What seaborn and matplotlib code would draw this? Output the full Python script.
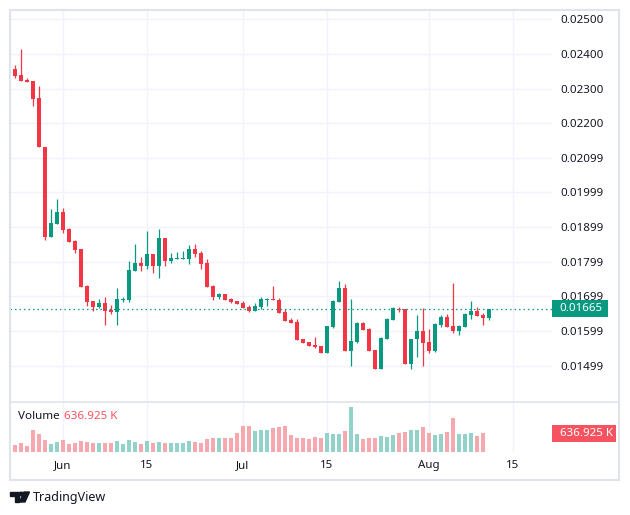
import numpy as np
import pandas as pd
import matplotlib
matplotlib.use('Agg')
import matplotlib.pyplot as plt
import matplotlib.transforms as mtransforms
from matplotlib.patches import Rectangle, Polygon, Circle
import seaborn as sns

# daily candles, first one 23 May
start_date = '2024-05-23'
opens = [
    0.02375, 0.02357, 0.02339, 0.02326, 0.02322, 0.02273, 0.02131, 0.01872, 0.01910, 0.01944,
    0.01895, 0.01860, 0.01837, 0.01730, 0.01687, 0.01670, 0.01681, 0.01662, 0.01656, 0.01689,
    0.01691, 0.01774, 0.01797, 0.01789, 0.01822, 0.01789, 0.01869, 0.01803, 0.01809, 0.01809,
    0.01809, 0.01837, 0.01825, 0.01797, 0.01730, 0.01699, 0.01708, 0.01693, 0.01688, 0.01682,
    0.01670, 0.01659, 0.01670, 0.01691, 0.01693, 0.01691, 0.01656, 0.01633, 0.01627, 0.01577,
    0.01568, 0.01560, 0.01557, 0.01538, 0.01613, 0.01685, 0.01724, 0.01543, 0.01569, 0.01624,
    0.01606, 0.01545, 0.01491, 0.01578, 0.01633, 0.01665, 0.01665, 0.01506, 0.01576, 0.01600,
    0.01568, 0.01543, 0.01618, 0.01641, 0.01615, 0.01601, 0.01613, 0.01647, 0.01658, 0.01646,
    0.01639]
closes = [
    0.02354, 0.02336, 0.02323, 0.02320, 0.02271, 0.02132, 0.01872, 0.01912, 0.01944, 0.01893,
    0.01858, 0.01835, 0.01728, 0.01685, 0.01670, 0.01681, 0.01658, 0.01656, 0.01693, 0.01693,
    0.01776, 0.01797, 0.01789, 0.01822, 0.01789, 0.01869, 0.01803, 0.01812, 0.01812, 0.01812,
    0.01837, 0.01823, 0.01794, 0.01728, 0.01699, 0.01708, 0.01691, 0.01685, 0.01679, 0.01667,
    0.01659, 0.01673, 0.01693, 0.01693, 0.01691, 0.01653, 0.01630, 0.01624, 0.01575, 0.01566,
    0.01558, 0.01555, 0.01538, 0.01615, 0.01687, 0.01724, 0.01543, 0.01571, 0.01624, 0.01604,
    0.01543, 0.01491, 0.01580, 0.01635, 0.01666, 0.01662, 0.01506, 0.01576, 0.01600, 0.01566,
    0.01543, 0.01621, 0.01641, 0.01613, 0.01601, 0.01615, 0.01649, 0.01658, 0.01644, 0.01639,
    0.01665]
highs = [
    0.02377, 0.02368, 0.02414, 0.02330, 0.02322, 0.02307, 0.02131, 0.01952, 0.01981, 0.01955,
    0.01898, 0.01864, 0.01837, 0.01733, 0.01687, 0.01693, 0.01698, 0.01675, 0.01724, 0.01698,
    0.01802, 0.01851, 0.01814, 0.01889, 0.01822, 0.01895, 0.01869, 0.01825, 0.01828, 0.01831,
    0.01848, 0.01851, 0.01831, 0.01808, 0.01734, 0.01711, 0.01708, 0.01696, 0.01688, 0.01688,
    0.01675, 0.01682, 0.01699, 0.01696, 0.01731, 0.01696, 0.01665, 0.01639, 0.01635, 0.01577,
    0.01568, 0.01583, 0.01557, 0.01615, 0.01690, 0.01745, 0.01736, 0.01693, 0.01627, 0.01627,
    0.01609, 0.01545, 0.01583, 0.01638, 0.01670, 0.01670, 0.01665, 0.01576, 0.01646, 0.01666,
    0.01605, 0.01624, 0.01646, 0.01649, 0.01739, 0.01618, 0.01653, 0.01687, 0.01670, 0.01652,
    0.01665]
lows = [
    0.02352, 0.02331, 0.02323, 0.02320, 0.02251, 0.02132, 0.01864, 0.01872, 0.01910, 0.01884,
    0.01858, 0.01826, 0.01728, 0.01673, 0.01659, 0.01667, 0.01618, 0.01650, 0.01618, 0.01685,
    0.01685, 0.01774, 0.01774, 0.01780, 0.01769, 0.01754, 0.01789, 0.01797, 0.01809, 0.01809,
    0.01794, 0.01815, 0.01780, 0.01728, 0.01690, 0.01693, 0.01691, 0.01682, 0.01679, 0.01667,
    0.01656, 0.01659, 0.01665, 0.01673, 0.01691, 0.01653, 0.01630, 0.01624, 0.01575, 0.01566,
    0.01558, 0.01552, 0.01538, 0.01538, 0.01610, 0.01685, 0.01543, 0.01500, 0.01566, 0.01604,
    0.01543, 0.01491, 0.01491, 0.01578, 0.01632, 0.01656, 0.01506, 0.01491, 0.01526, 0.01500,
    0.01538, 0.01540, 0.01613, 0.01613, 0.01594, 0.01590, 0.01613, 0.01636, 0.01644, 0.01618,
    0.01633]
# volume in thousands, the last candle has no bar
volumes_k = [
    221, 221, 301, 197, 751, 623, 405, 266, 336, 405,
    256, 301, 370, 346, 301, 291, 311, 311, 370, 277,
    405, 325, 277, 370, 311, 336, 301, 301, 311, 301,
    370, 325, 301, 439, 474, 474, 474, 474, 647, 900,
    900, 716, 751, 751, 820, 855, 889, 578, 474, 474,
    439, 509, 474, 647, 612, 612, 716, 1547, 612, 439,
    474, 474, 543, 509, 578, 647, 682, 751, 751, 855,
    647, 578, 612, 682, 1166, 612, 612, 647, 543, 636.925,
    np.nan]

price_ticks = [0.025, 0.024, 0.023, 0.022, 0.021, 0.020, 0.019, 0.018, 0.017, 0.016, 0.015]
price_tick_labels = ['0.02500', '0.02400', '0.02300', '0.02200', '0.02099', '0.01999',
                     '0.01899', '0.01799', '0.01699', '0.01599', '0.01499']
date_ticks = ['2024-06-01', '2024-06-15', '2024-07-01', '2024-07-15', '2024-08-01', '2024-08-15']
date_tick_labels = ['Jun', '15', 'Jul', '15', 'Aug', '15']
last_price_label = '0.01665'
volume_label = '636.925 K'

UP = '#089981'
DOWN = '#f23645'
UP_VOL = '#92d3c9'
DOWN_VOL = '#f7a8ae'
TXT = '#131722'
GRID = '#f0f3fa'
BORDER = '#e0e3eb'

W, H = 630, 515
sns.set_theme(style='white')
plt.rcParams['font.family'] = ['Noto Sans', 'DejaVu Sans']

ref = pd.Timestamp('2024-06-01')
dates = pd.date_range(start_date, periods=len(opens), freq='D')
days = np.array((dates - ref).days, dtype=float)
o = np.array(opens)
c = np.array(closes)
up = c >= o
cols = np.where(up, UP, DOWN)
tick_days = [(pd.Timestamp(d) - ref).days for d in date_ticks]


def box(x0, y0, x1, y1):
    # pixel box (y from top) -> figure rect
    return [x0 / W, 1 - y1 / H, (x1 - x0) / W, (y1 - y0) / H]


fig = plt.figure(figsize=(W / 100, H / 100), dpi=100)
fig.patch.set_facecolor('white')
px = mtransforms.Affine2D().scale(1 / W, -1 / H).translate(0, 1) + fig.transFigure

ax = fig.add_axes(box(10, 10, 551.7, 401.7))
axv = fig.add_axes(box(10, 402, 551.7, 451.7))

# candles
ax.vlines(days, lows, highs, colors=cols, lw=0.9, zorder=3)
body = np.maximum(np.abs(c - o), 0.00003)
ax.bar(days, body, bottom=np.minimum(o, c), width=0.8, color=cols, linewidth=0, zorder=4)
ax.axhline(closes[-1], color=UP, lw=0.9, ls=(0, (1.2, 2.4)), zorder=5)

ax.set_xlim(-8.833, 81.45)
ax.set_ylim(0.013961, 0.025268)
ax.yaxis.tick_right()
ax.set_yticks(price_ticks, price_tick_labels)
ax.set_xticks(tick_days)
ax.tick_params(axis='y', length=0, pad=6, labelsize=8.3, labelcolor=TXT)
ax.tick_params(axis='x', length=0, labelbottom=False)
ax.grid(True, color=GRID, lw=1)
for s in ax.spines.values():
    s.set_visible(False)

# volume pane
vdf = pd.DataFrame({'day': days, 'vol': volumes_k,
                    'dir': np.where(up, 'up', 'down')}).dropna()
sns.barplot(data=vdf, x='day', y='vol', hue='dir', palette={'up': UP_VOL, 'down': DOWN_VOL},
            native_scale=True, dodge=False, width=0.8, saturation=1, errorbar=None,
            legend=False, linewidth=0, ax=axv, zorder=3)
axv.set_xlim(-8.833, 81.45)
axv.set_ylim(0, 1720)
axv.set_xlabel('')
axv.set_ylabel('')
axv.set_yticks([])
axv.set_xticks(tick_days, date_tick_labels)
axv.tick_params(axis='x', length=0, pad=6, labelsize=8.3, labelcolor=TXT)
axv.grid(True, axis='x', color=GRID, lw=1)
for s in axv.spines.values():
    s.set_visible(False)

fig.text(18, 416.7, 'Volume', transform=px, fontsize=8.4, color=TXT, va='center')
fig.text(64, 416.7, volume_label, transform=px, fontsize=8.4, color='#f7525f', va='center')

# last value markers on the right scale
tp = mtransforms.blended_transform_factory(px, ax.transData)
ax.add_artist(Rectangle((551.7, closes[-1] - 0.00024), 56, 0.00048, transform=tp,
                        facecolor=UP, edgecolor='none', clip_on=False, zorder=6))
ax.text(559.5, closes[-1], last_price_label, transform=tp, color='white', fontsize=8.3,
        va='center', ha='left', clip_on=False, zorder=7)
tv = mtransforms.blended_transform_factory(px, axv.transData)
axv.add_artist(Rectangle((551.7, 636.925 - 289), 64.3, 578, transform=tv,
                         facecolor='#f7525f', edgecolor='none', clip_on=False, zorder=6))
axv.text(559.5, 636.925, volume_label, transform=tv, color='white', fontsize=8.3,
         va='center', ha='left', clip_on=False, zorder=7)

# frame and pane separator
fig.add_artist(Rectangle((10, 10), 609.3, 470, transform=px, fill=False,
                         edgecolor=BORDER, lw=1.5))
fig.add_artist(plt.Line2D([10, 619.3], [401.7, 401.7], transform=px, color=BORDER, lw=1.2))

# TradingView logo
fig.add_artist(Polygon([(10, 492), (18.5, 492), (18.5, 502), (14.5, 502), (14.5, 495.5), (10, 495.5)],
                       transform=px, color=TXT))
fig.add_artist(Circle((21.3, 494), 1.8, transform=px, color=TXT))
fig.add_artist(Polygon([(24, 492), (29.5, 492), (25, 502), (19.5, 502)], transform=px, color=TXT))
fig.text(33, 497, 'TradingView', transform=px, fontsize=9, color=TXT, va='center')

fig.savefig('out.png', dpi=100, facecolor='white')
